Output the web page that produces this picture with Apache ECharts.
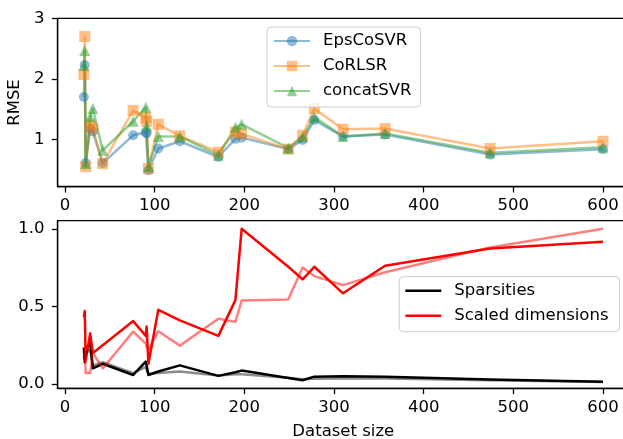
<!DOCTYPE html>
<html>
<head>
<meta charset="utf-8">
<script src="https://cdn.jsdelivr.net/npm/echarts@6/dist/echarts.min.js"></script>
<style>
  html, body { margin: 0; padding: 0; background: #ffffff; }
  #chart { width: 623px; height: 439px; }
</style>
</head>
<body>
<div id="chart"></div>
<script>
// Dataset sizes (shared x values of every curve)
const datasetSize = [21, 22, 23, 28, 31, 42, 76, 90, 91, 93, 104, 128, 171, 190, 197, 249, 265, 278, 310, 357, 474, 600];

// RMSE per method
const rmseEpsCoSVR  = [1.70, 2.23, 0.61, 1.18, 1.13, 0.61, 1.07, 1.12, 1.10, 0.49, 0.85, 0.97, 0.71, 1.01, 1.03, 0.84, 0.99, 1.32, 1.05, 1.08, 0.75, 0.84];
const rmseCoRLSR    = [2.07, 2.70, 0.55, 1.24, 1.18, 0.60, 1.48, 1.36, 1.30, 0.52, 1.25, 1.06, 0.79, 1.12, 1.09, 0.84, 1.07, 1.51, 1.17, 1.18, 0.85, 0.97];
const rmseConcatSVR = [2.22, 2.47, 0.60, 1.37, 1.51, 0.82, 1.30, 1.53, 1.22, 0.55, 1.05, 1.05, 0.74, 1.20, 1.25, 0.86, 1.04, 1.37, 1.05, 1.10, 0.78, 0.87];

// Dataset properties (solid = main view, faded = second view)
const sparsities       = [0.235, 0.14, 0.22, 0.27, 0.10, 0.13, 0.058, 0.144, 0.12, 0.058, 0.08, 0.12, 0.052, 0.075, 0.086, 0.038, 0.024, 0.047, 0.05, 0.047, 0.028, 0.015];
const sparsities2      = [0.21, 0.16, 0.20, 0.22, 0.12, 0.14, 0.07, 0.11, 0.09, 0.065, 0.07, 0.08, 0.055, 0.062, 0.062, 0.04, 0.03, 0.034, 0.035, 0.035, 0.024, 0.012];
const scaledDims       = [0.43, 0.47, 0.15, 0.326, 0.20, 0.25, 0.405, 0.31, 0.37, 0.13, 0.478, 0.41, 0.31, 0.54, 1.0, 0.755, 0.674, 0.755, 0.584, 0.762, 0.873, 0.916];
const scaledDims2      = [0.16, 0.22, 0.07, 0.07, 0.20, 0.10, 0.337, 0.26, 0.24, 0.22, 0.34, 0.247, 0.42, 0.40, 0.537, 0.545, 0.75, 0.695, 0.637, 0.72, 0.88, 1.0];

// Tick labels
const xTicks = [0, 100, 200, 300, 400, 500, 600];
const rmseTicks = [1, 2, 3];
const propTicks = [0, 0.5, 1.0];

const FONT = 'DejaVu Sans';
const FS = 16.5;
const pairs = (ys) => datasetSize.map((x, i) => [x, ys[i]]);
// plain line swatch for legend entries without markers
const LINE_ICON = 'path://M0,0L36,0L36,2.5L0,2.5Z';

const chart = echarts.init(document.getElementById('chart'), null, { renderer: 'canvas' });

function xAxisCfg(gridIndex, extra) {
  return Object.assign({
    type: 'value', gridIndex, min: -8.3, max: 629,
    axisLine: { show: true, onZero: false, lineStyle: { color: '#000', width: 1.3 } },
    axisTick: { show: true, customValues: xTicks, length: 5.8, lineStyle: { color: '#000', width: 1.3 } },
    axisLabel: { customValues: xTicks, margin: 10.5, color: '#000', fontFamily: FONT, fontSize: FS },
    splitLine: { show: false }
  }, extra || {});
}
function yAxisCfg(gridIndex, min, max, ticks, fmt, extra) {
  return Object.assign({
    type: 'value', gridIndex, min, max,
    axisLine: { show: true, onZero: false, lineStyle: { color: '#000', width: 1.3 } },
    axisTick: { show: true, customValues: ticks, length: 5.8, lineStyle: { color: '#000', width: 1.3 } },
    axisLabel: { customValues: ticks, margin: 13, color: '#000', fontFamily: FONT, fontSize: FS, formatter: fmt },
    splitLine: { show: false }
  }, extra || {});
}

const legendBase = {
  orient: 'vertical',
  itemWidth: 36, itemHeight: 13, itemGap: 6,
  borderColor: '#cccccc', borderWidth: 1, borderRadius: 4,
  backgroundColor: 'rgba(255,255,255,0.8)',
  textStyle: { fontFamily: FONT, fontSize: FS, lineHeight: 19, color: '#000', padding: [0, 0, 0, 8] },
  selectedMode: false
};

function methodSeries(name, ys, color, symbol, size) {
  return {
    name, type: 'line', xAxisIndex: 0, yAxisIndex: 0,
    data: pairs(ys), symbol, symbolSize: size, showSymbol: true,
    itemStyle: { color, opacity: 0.5 },
    lineStyle: { color, width: 2.5, opacity: 0.5, join: 'round' },
    emphasis: { disabled: true }
  };
}
function propSeries(name, ys, color, opacity) {
  return {
    name, type: 'line', xAxisIndex: 1, yAxisIndex: 1,
    data: pairs(ys), symbol: 'none', showSymbol: false,
    itemStyle: { color, opacity },
    lineStyle: { color, width: 2.5, opacity, join: 'round' },
    emphasis: { disabled: true }
  };
}

chart.setOption({
  animation: false,
  backgroundColor: '#ffffff',
  grid: [
    { left: 57.6, top: 18.3, width: 571.4, height: 168.4, outerBoundsMode: 'none', containLabel: false,
      show: true, borderColor: '#000', borderWidth: 1.3, backgroundColor: 'transparent' },
    { left: 57.6, top: 220.7, width: 571.4, height: 167.6, outerBoundsMode: 'none', containLabel: false,
      show: true, borderColor: '#000', borderWidth: 1.3, backgroundColor: 'transparent' }
  ],
  xAxis: [
    xAxisCfg(0),
    xAxisCfg(1, { name: 'Dataset size', nameLocation: 'middle', nameGap: 35,
      nameTextStyle: { color: '#000', fontFamily: FONT, fontSize: FS } })
  ],
  yAxis: [
    yAxisCfg(0, 0.22, 3, rmseTicks, (v) => String(v), {
      name: 'RMSE', nameLocation: 'middle', nameGap: 23.5,
      nameTextStyle: { color: '#000', fontFamily: FONT, fontSize: FS } }),
    yAxisCfg(1, -0.028, 1.052, propTicks, (v) => v.toFixed(1))
  ],
  legend: [
    Object.assign({}, legendBase, {
      left: 267, top: 27, padding: [4.5, 9, 6.5, 6],
      data: [
        { name: 'EpsCoSVR', itemStyle: { opacity: 0.5 }, lineStyle: { opacity: 0.5 } },
        { name: 'CoRLSR', itemStyle: { opacity: 0.5 }, lineStyle: { opacity: 0.5 } },
        { name: 'concatSVR', itemStyle: { opacity: 0.5 }, lineStyle: { opacity: 0.5 } }
      ]
    }),
    Object.assign({}, legendBase, {
      left: 399.3, top: 276.7, padding: [4.5, 11, 6.5, 6],
      data: [
        { name: 'Sparsities', icon: LINE_ICON },
        { name: 'Scaled dimensions', icon: LINE_ICON }
      ]
    })
  ],
  series: [
    methodSeries('EpsCoSVR', rmseEpsCoSVR, '#1f77b4', 'circle', 10),
    methodSeries('CoRLSR', rmseCoRLSR, '#ff7f0e', 'rect', 11),
    methodSeries('concatSVR', rmseConcatSVR, '#2ca02c', 'triangle', 11),
    propSeries('Sparsities', sparsities, '#000000', 1),
    propSeries('Scaled dimensions', scaledDims, '#ff0000', 1),
    propSeries('Sparsities (view 2)', sparsities2, '#000000', 0.45),
    propSeries('Scaled dimensions (view 2)', scaledDims2, '#ff0000', 0.5)
  ]
});
</script>
</body>
</html>
